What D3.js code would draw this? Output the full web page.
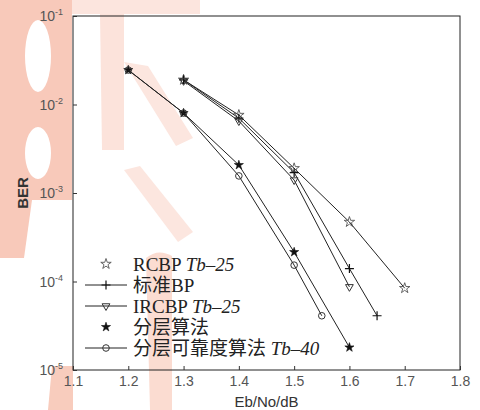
<!DOCTYPE html>
<html>
<head>
<meta charset="utf-8">
<script src="https://cdn.jsdelivr.net/npm/d3@7"></script>
<style>
  body { margin: 0; background: #fff; }
  svg { display: block; }
</style>
</head>
<body>
<div id="chart"></div>
<script>
// Eb/No (dB) and BER
var rcbpSnr  = [1.3, 1.4, 1.5, 1.6, 1.7];
var rcbpBer  = [1.9e-2, 7.6e-3, 1.9e-3, 4.7e-4, 8.4e-5];
var bpSnr    = [1.3, 1.4, 1.5, 1.6, 1.65];
var bpBer    = [1.9e-2, 7.0e-3, 1.7e-3, 1.4e-4, 4.1e-5];
var ircbpSnr = [1.3, 1.4, 1.5, 1.6];
var ircbpBer = [1.85e-2, 6.5e-3, 1.4e-3, 8.7e-5];
var layerSnr = [1.2, 1.3, 1.4, 1.5, 1.6];
var layerBer = [2.45e-2, 8.0e-3, 2.07e-3, 2.15e-4, 1.8e-5];
var relSnr   = [1.2, 1.3, 1.4, 1.5, 1.55];
var relBer   = [2.45e-2, 8.0e-3, 1.56e-3, 1.53e-4, 4.1e-5];

var xTicks = [1.1, 1.2, 1.3, 1.4, 1.5, 1.6, 1.7, 1.8];
var yTicks = [1e-1, 1e-2, 1e-3, 1e-4, 1e-5];
var yTickExp = ["-1", "-2", "-3", "-4", "-5"];

var seriesNames = ["RCBP ", "标准BP", "IRCBP ", "分层算法", "分层可靠度算法 "];
var seriesSuffix = ["Tb–25", "", "Tb–25", "", "Tb–40"];

var series = [
    { name: seriesNames[0], snr: rcbpSnr, ber: rcbpBer, marker: "star", legendLine: false },
    { name: seriesNames[1], snr: bpSnr, ber: bpBer, marker: "plus", legendLine: true },
    { name: seriesNames[2], snr: ircbpSnr, ber: ircbpBer, marker: "tri", legendLine: true },
    { name: seriesNames[3], snr: layerSnr, ber: layerBer, marker: "fstar", legendLine: false },
    { name: seriesNames[4], snr: relSnr, ber: relBer, marker: "circle", legendLine: true }
];

var margin = { top: 16, right: 20, bottom: 40, left: 73 };
var totalWidth = 480, totalHeight = 410;
var width = 460 - margin.left,
    height = 370 - margin.top;

var svg = d3.select("#chart").append("svg")
    .attr("width", totalWidth)
    .attr("height", totalHeight);

// faint pink stamp behind the chart (as in the scanned figure)
function ell(cx, cy, rx, ry) {
    return "M" + (cx - rx) + "," + cy + "a" + rx + "," + ry + " 0 1,0 " + (2 * rx) + ",0"
        + "a" + rx + "," + ry + " 0 1,0 " + (-2 * rx) + ",0Z";
}
var stamp = svg.append("g").attr("class", "stamp");
stamp.append("path")
    .attr("d", "M0,0H72V200H0Z" + ell(38, 56, 13, 36) + ell(38, 153, 13, 26))
    .attr("fill-rule", "evenodd")
    .attr("fill", "#f8c9ba");
stamp.append("path").attr("d", "M72,0H200V14H72Z").attr("fill", "#fce5de");
stamp.append("path").attr("d", "M100,14H124V150H102Z").attr("fill", "#fce3db");
stamp.append("path").attr("d", "M0,200H32L24,258H0Z").attr("fill", "#f8c9ba");
stamp.append("path").attr("d", "M52,366H73V410H48Z").attr("fill", "#f8ccbd");
stamp.append("path").attr("d", "M124,62L148,66L193,138L176,146Z").attr("fill", "#fce6df");
stamp.append("path").attr("d", "M124,170L140,166L193,232L178,242Z").attr("fill", "#fce6df");
stamp.append("path").attr("d", "M146,258Q158,248 172,256V410H150Z").attr("fill", "#fbdcd1");

var g = svg.append("g")
    .attr("transform", "translate(" + margin.left + "," + margin.top + ")");

var xScale = d3.scaleLinear().domain([1.1, 1.8]).range([0, width]);
var yScale = d3.scaleLog().domain([1e-5, 1e-1]).range([height, 0]);

// frame
g.append("rect")
    .attr("width", width)
    .attr("height", height)
    .attr("fill", "none")
    .attr("stroke", "#222")
    .attr("stroke-width", 1);

// axes with short inward ticks
var xAxis = d3.axisBottom(xScale).tickValues(xTicks).tickSize(-4).tickPadding(6)
    .tickFormat(d3.format(".1f"));
var xg = g.append("g").attr("transform", "translate(0," + height + ")").call(xAxis);
xg.select(".domain").remove();
xg.selectAll("line").attr("stroke", "#333");
xg.selectAll("text")
    .style("font-family", "'Liberation Sans', Arial, sans-serif")
    .style("font-size", "14px")
    .attr("fill", "#555");

var yAxis = d3.axisLeft(yScale).tickValues(yTicks).tickSize(-4).tickFormat("");
var yg = g.append("g").call(yAxis);
yg.select(".domain").remove();
yg.selectAll("line").attr("stroke", "#333");

var yLabels = g.selectAll(".ylab")
    .data(yTicks)
    .enter()
    .append("text")
    .attr("class", "ylab")
    .attr("x", -10)
    .attr("y", function (d) { return yScale(d) + 5; })
    .attr("text-anchor", "end")
    .style("font-family", "'Liberation Sans', Arial, sans-serif")
    .style("font-size", "14px")
    .attr("fill", "#555");
yLabels.append("tspan").text("10");
yLabels.append("tspan")
    .attr("dy", -6)
    .style("font-size", "9px")
    .text(function (d, i) { return yTickExp[i]; });

// axis titles
svg.append("text")
    .attr("x", margin.left + width / 2)
    .attr("y", 407)
    .attr("text-anchor", "middle")
    .style("font-family", "'Liberation Sans', Arial, sans-serif")
    .style("font-size", "15px")
    .attr("fill", "#333")
    .text("Eb/No/dB");

svg.append("text")
    .attr("transform", "translate(28," + (margin.top + height / 2) + ") rotate(-90)")
    .attr("text-anchor", "middle")
    .style("font-family", "'Liberation Sans', Arial, sans-serif")
    .style("font-size", "15px")
    .style("font-weight", "bold")
    .attr("fill", "#333")
    .text("BER");

// markers
function drawMarker(sel, type) {
    if (type === "star") {
        sel.append("path").attr("d", d3.symbol().type(d3.symbolStar).size(34))
            .attr("fill", "none").attr("stroke", "#555").attr("stroke-width", 0.9);
    } else if (type === "fstar") {
        sel.append("path").attr("d", d3.symbol().type(d3.symbolStar).size(26))
            .attr("fill", "#111").attr("stroke", "#111").attr("stroke-width", 0.6);
    } else if (type === "plus") {
        sel.append("path").attr("d", "M-4.5,0H4.5M0,-4.5V4.5")
            .attr("fill", "none").attr("stroke", "#111").attr("stroke-width", 1.2);
    } else if (type === "tri") {
        sel.append("path").attr("d", d3.symbol().type(d3.symbolTriangle).size(26))
            .attr("transform", "rotate(180)")
            .attr("fill", "none").attr("stroke", "#333").attr("stroke-width", 1);
    } else if (type === "circle") {
        sel.append("circle").attr("r", 3.3)
            .attr("fill", "none").attr("stroke", "#333").attr("stroke-width", 1);
    }
}

var line = d3.line()
    .x(function (d) { return xScale(d[0]); })
    .y(function (d) { return yScale(d[1]); });

series.forEach(function (s) {
    var pts = s.snr.map(function (v, i) { return [v, s.ber[i]]; });
    g.append("path")
        .datum(pts)
        .attr("d", line)
        .attr("fill", "none")
        .attr("stroke", "#222")
        .attr("stroke-width", 1);
    pts.forEach(function (p) {
        var m = g.append("g")
            .attr("transform", "translate(" + xScale(p[0]) + "," + yScale(p[1]) + ")");
        drawMarker(m, s.marker);
    });
});

// legend
var legend = svg.append("g").attr("transform", "translate(85,264)");
series.forEach(function (s, i) {
    var row = legend.append("g").attr("transform", "translate(0," + (i * 21) + ")");
    if (s.legendLine) {
        row.append("line").attr("x1", 0).attr("x2", 42).attr("y1", 0).attr("y2", 0)
            .attr("stroke", "#222").attr("stroke-width", 1);
    }
    var m = row.append("g").attr("transform", "translate(21,0)");
    drawMarker(m, s.marker);
    var t = row.append("text")
        .attr("x", 48)
        .attr("y", 7)
        .style("font-family", "'Liberation Serif', 'Noto Sans CJK SC', serif")
        .style("font-size", "19px")
        .attr("fill", "#222");
    t.append("tspan").text(s.name);
    t.append("tspan").style("font-style", "italic").text(seriesSuffix[i]);
});
</script>
</body>
</html>
